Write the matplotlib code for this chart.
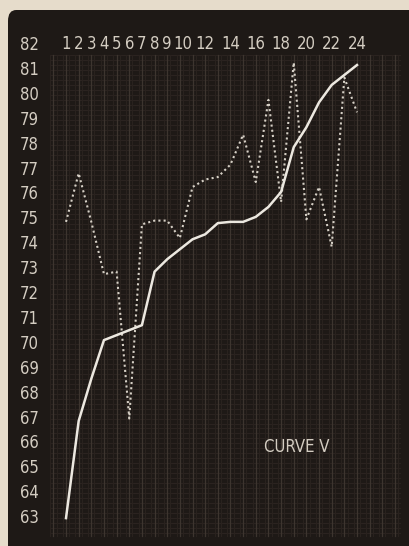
import matplotlib.pyplot as plt
from matplotlib.patches import FancyBboxPatch
import numpy as np

# hourly readings, hours 1..24
hours = list(range(1, 25))
curve_v = [63.0, 66.9, 68.6, 70.15, 70.35, 70.55, 70.75, 72.9, 73.4, 73.8,
           74.2, 74.4, 74.85, 74.9, 74.9, 75.1, 75.5, 76.1, 77.9, 78.7,
           79.7, 80.4, 80.8, 81.2]
single_day = [74.9, 76.85, 74.9, 72.8, 72.9, 67.0, 74.8, 74.95, 74.95, 74.25,
              76.3, 76.6, 76.7, 77.2, 78.4, 76.5, 79.8, 75.7, 81.3, 75.0,
              76.3, 73.9, 80.7, 79.3]

x_ticks = [1, 2, 3, 4, 5, 6, 7, 8, 9, 10, 12, 14, 16, 18, 20, 22, 24]
y_ticks = list(range(63, 83))

paper = '#e6dccb'
board = '#1e1916'
ink = '#d4cdc2'
font = ['DejaVu Sans']
label_kw = dict(color=ink, fontsize=12, family=font, fontstretch='condensed',
                ha='center', va='center', zorder=3)

fig = plt.figure(figsize=(4.10, 5.46), dpi=100, facecolor=paper)

# dark board with a rounded top-left corner
board_patch = FancyBboxPatch((8 / 410, -0.05), 1.2, 1.05 - 10 / 546,
                             boxstyle='round,pad=0,rounding_size=0.02',
                             transform=fig.transFigure, facecolor=board,
                             edgecolor='none', zorder=-5)
fig.patches.append(board_patch)

ax = fig.add_axes([8 / 410, 0, 1 - 8 / 410, 1 - 10 / 546])
ax.set_facecolor('none')
ax.set_zorder(2)
ax.set_xlim(-3.585, 28.19)
ax.set_ylim(61.88, 83.41)
ax.axis('off')

# graph paper ruling
x0, x1 = -0.3, 27.4
y0, y1 = 62.3, 81.6
for yy in np.arange(62.4, 81.61, 0.2):
    ax.plot([x0, x1], [yy, yy], color='#2e2622', lw=0.6, zorder=1)
for xx in np.arange(-0.25, 27.3, 0.5):
    ax.plot([xx, xx], [y0, y1], color='#29221e', lw=0.8, zorder=1)
for xx in np.arange(0, 28, 1):
    ax.plot([xx, xx], [y0, y1], color='#3d352f', lw=0.9, zorder=1)

# axis labels written on the board
for h in x_ticks:
    xpos = h + 0.25 if h == 10 else h
    ax.text(xpos, 82.05, str(h), **label_kw)
for v in y_ticks:
    ax.text(-1.9, v, str(v), **label_kw)

ax.plot(hours, single_day, color='#d6d0c6', lw=1.5, linestyle=(0, (1, 1.5)),
        zorder=4)
ax.plot(hours, curve_v, color='#ece8e0', lw=1.8, zorder=5)

ax.text(19.2, 65.86, 'CURVE V', **label_kw)

fig.savefig('out.png', dpi=100, facecolor=paper)
